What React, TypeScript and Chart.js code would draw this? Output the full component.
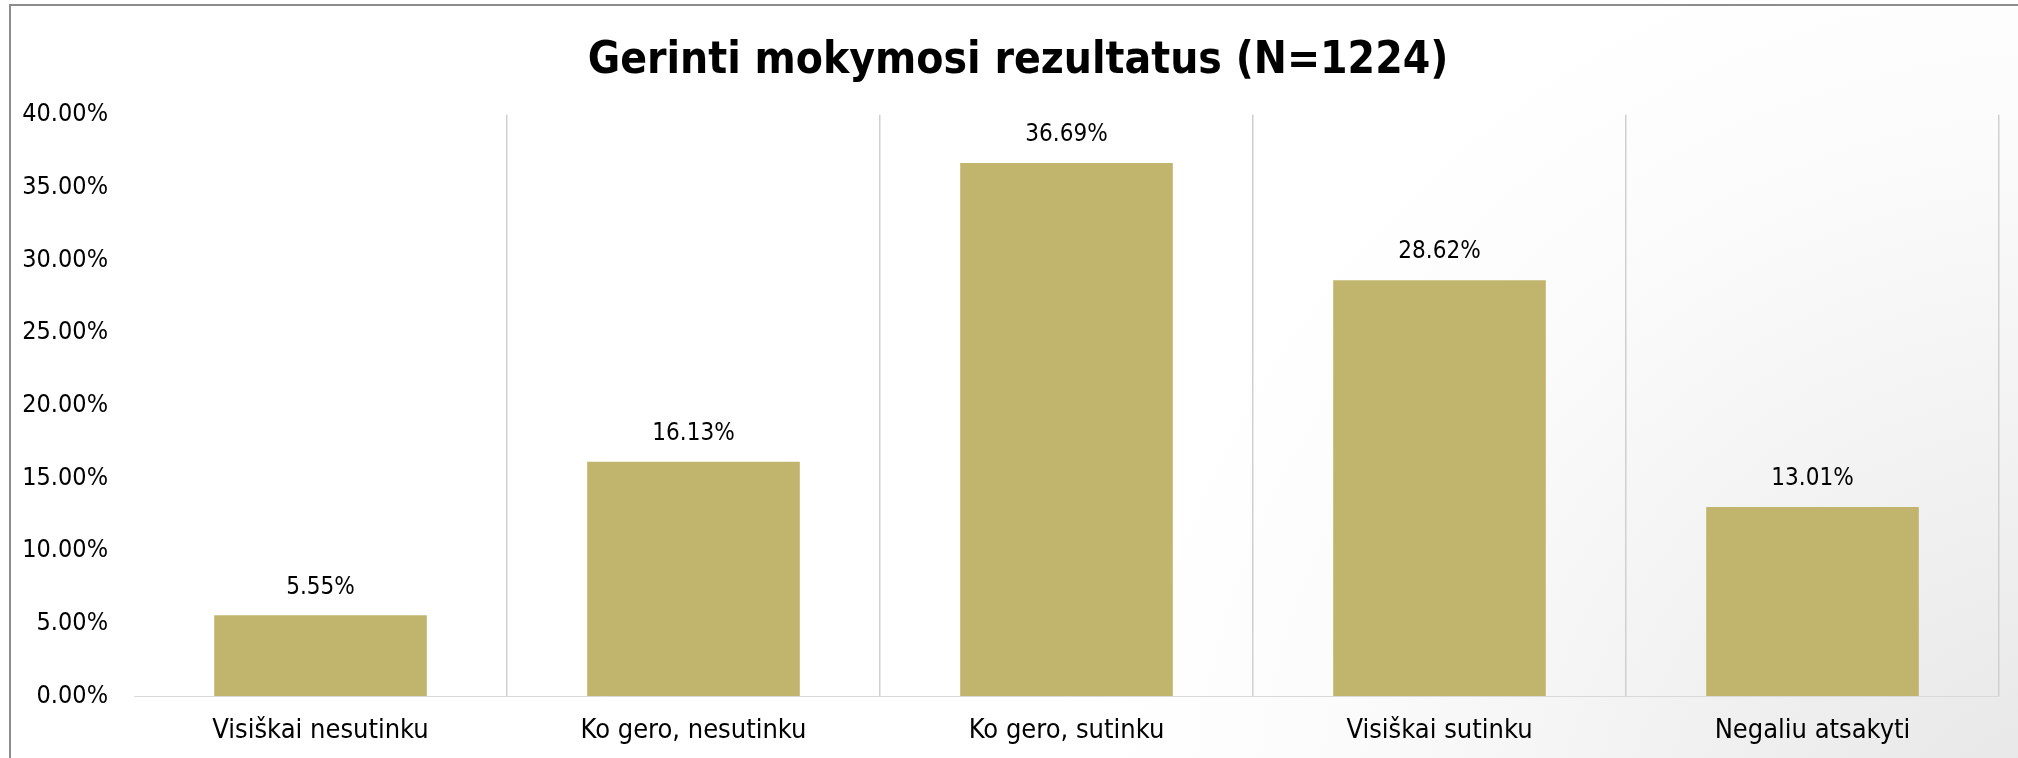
import React, { useEffect, useRef } from "react";
import { Chart, registerables } from "chart.js";

Chart.register(...registerables);

const TITLE = "Gerinti mokymosi rezultatus (N=1224)";
const categories = [
  "Visiškai nesutinku",
  "Ko gero, nesutinku",
  "Ko gero, sutinku",
  "Visiškai sutinku",
  "Negaliu atsakyti",
];
const values = [5.55, 16.13, 36.69, 28.62, 13.01];
const yTicks = [0, 5, 10, 15, 20, 25, 30, 35, 40];

const FONT = '"DejaVu Sans Condensed", "DejaVu Sans", sans-serif';

const bgPlugin = {
  id: "bgPlugin",
  afterLayout(chart: any) {
    if (chart.titleBlock) {
      chart.titleBlock.left = 37;
    }
  },
  beforeDraw(chart: any) {
    const { ctx, width, height } = chart;
    ctx.save();
    ctx.fillStyle = "#ffffff";
    ctx.fillRect(0, 0, width, height);
    const g = ctx.createRadialGradient(width + 60, height + 120, 0, width + 60, height + 120, 1000);
    g.addColorStop(0, "#e4e4e4");
    g.addColorStop(0.35, "#efefef");
    g.addColorStop(0.75, "#fbfbfb");
    g.addColorStop(1, "#ffffff");
    ctx.fillStyle = g;
    ctx.fillRect(0, 0, width, height);
    ctx.strokeStyle = "#8c8c8c";
    ctx.lineWidth = 2;
    ctx.strokeRect(10, 5, width + 50, height + 50);
    ctx.restore();
  },
};

const labelPlugin = {
  id: "valueLabels",
  afterDatasetsDraw(chart: any) {
    const { ctx } = chart;
    const meta = chart.getDatasetMeta(0);
    ctx.save();
    ctx.font = `24px ${FONT}`;
    ctx.fillStyle = "#000000";
    ctx.textAlign = "center";
    ctx.textBaseline = "middle";
    meta.data.forEach((bar: any, i: number) => {
      ctx.fillText(values[i].toFixed(2) + "%", bar.x, bar.y - 28);
    });
    ctx.restore();
  },
};

export default function App() {
  const ref = useRef<HTMLCanvasElement | null>(null);
  useEffect(() => {
    if (!ref.current) return;
    const chart = new Chart(ref.current, {
      type: "bar",
      data: {
        labels: categories,
        datasets: [
          {
            data: values,
            backgroundColor: "#c1b56d",
            borderWidth: 0,
            categoryPercentage: 1,
            barPercentage: 0.57,
          },
        ],
      },
      options: {
        animation: false,
        responsive: false,
        maintainAspectRatio: false,
        layout: { padding: { left: 0, right: 19, top: 0, bottom: 0 } },
        plugins: {
          legend: { display: false },
          tooltip: { enabled: false },
          title: {
            display: true,
            text: TITLE,
            color: "#000000",
            font: { family: FONT, size: 44, weight: "bold", lineHeight: 1.2 },
            padding: { top: 35, bottom: 27 },
          },
        },
        scales: {
          x: {
            afterFit: (s: any) => {
              s.height = 62;
            },
            grid: {
              offset: true,
              drawTicks: false,
              lineWidth: 1.5,
              color: (c: any) => (c.index === 0 ? "rgba(0,0,0,0)" : "#d0d0d0"),
            },
            border: { display: true, color: "#d9d9d9", width: 1 },
            ticks: {
              color: "#000000",
              padding: 19,
              font: { family: FONT, size: 27 },
            },
          },
          y: {
            min: 0,
            max: 40,
            afterFit: (s: any) => {
              s.width = 134;
            },
            afterBuildTicks: (s: any) => {
              s.ticks = yTicks.map((v) => ({ value: v }));
            },
            grid: { display: false, drawTicks: false },
            border: { display: false },
            ticks: {
              color: "#000000",
              padding: 26,
              font: { family: FONT, size: 25 },
              callback: (v: any) => Number(v).toFixed(2) + "%",
            },
          },
        },
      },
      plugins: [bgPlugin, labelPlugin],
    });
    return () => chart.destroy();
  }, []);
  return (
    <div style={{ position: "fixed", left: 0, top: 0, width: 2018, height: 758 }}>
      <canvas ref={ref} width={2018} height={758} style={{ width: 2018, height: 758, display: "block" }} />
    </div>
  );
}
